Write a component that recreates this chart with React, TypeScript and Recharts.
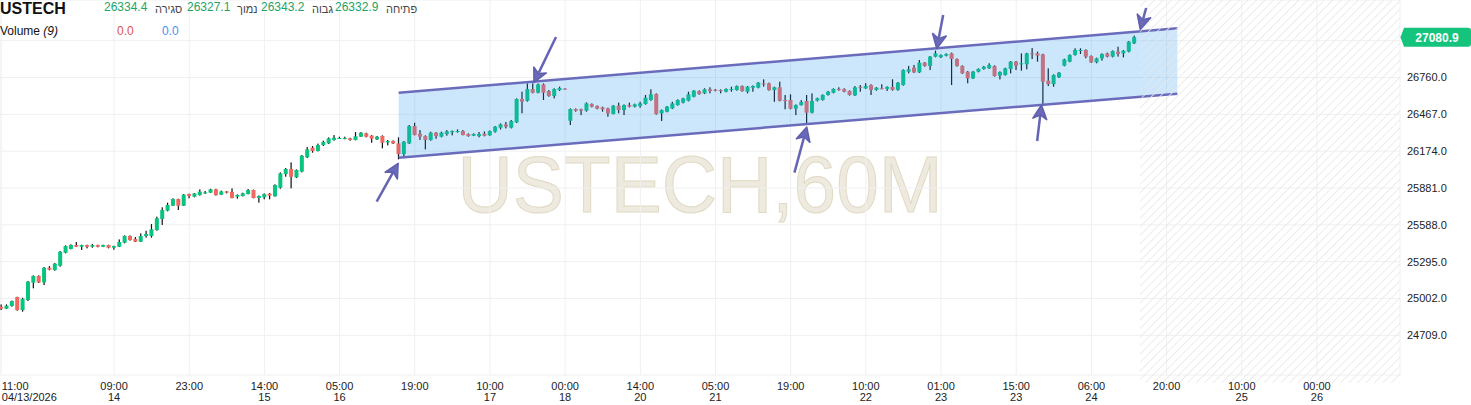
import React from 'react';
import { ComposedChart, Bar, Area, XAxis, YAxis, CartesianGrid, ReferenceLine, ReferenceArea } from 'recharts';

// hourly candles, 04/13 11:00 -> 04/24 (one row per bar)
const opens = [
  24937, 24921, 24942, 25014, 24910, 24990, 25128, 25181, 25130, 25247,
  25228, 25263, 25366, 25396, 25427, 25414, 25427, 25414, 25427, 25414,
  25427, 25406, 25414, 25446, 25499, 25475, 25454, 25499, 25499, 25547,
  25634, 25701, 25740, 25793, 25740, 25833, 25812, 25825, 25838, 25844,
  25870, 25828, 25854, 25849, 25812, 25817, 25833, 25865, 25801, 25807,
  25836, 25815, 25883, 25992, 26032, 25966, 26011, 26125, 26202, 26175,
  26223, 26236, 26263, 26276, 26273, 26276, 26263, 26289, 26316, 26297,
  26268, 26295, 26244, 26255, 26236, 26151, 26236, 26374, 26313, 26294,
  26263, 26321, 26289, 26310, 26324, 26329, 26334, 26310, 26297, 26294,
  26313, 26300, 26329, 26361, 26387, 26361, 26403, 26589, 26575, 26668,
  26639, 26705, 26652, 26613, 26660, 26671, 26416, 26509, 26507, 26496,
  26549, 26533, 26522, 26514, 26469, 26536, 26501, 26541, 26528, 26533,
  26549, 26581, 26628, 26475, 26488, 26514, 26541, 26560, 26575, 26607,
  26652, 26634, 26666, 26663, 26660, 26647, 26667, 26660, 26692, 26647,
  26679, 26679, 26713, 26713, 26660, 26682, 26581, 26581, 26512, 26541,
  26573, 26480, 26576, 26581, 26621, 26639, 26669, 26669, 26653, 26618,
  26686, 26674, 26700, 26661, 26675, 26669, 26685, 26661, 26700, 26806,
  26838, 26801, 26878, 26852, 26926, 26921, 26934, 26952, 26907, 26852,
  26806, 26753, 26806, 26828, 26833, 26851, 26775, 26780, 26828, 26886,
  26865, 26865, 26952, 26952, 26944, 26735, 26708, 26761, 26854, 26886,
  26939, 26978, 26979, 26931, 26881, 26912, 26952, 26926, 26966, 26952,
  26966, 27032,
];
const highs = [
  24955, 24955, 24985, 25016, 25008, 25141, 25186, 25186, 25252, 25260,
  25284, 25380, 25425, 25433, 25451, 25430, 25430, 25435, 25430, 25430,
  25430, 25422, 25472, 25504, 25504, 25491, 25520, 25541, 25594, 25653,
  25727, 25764, 25799, 25796, 25833, 25836, 25841, 25870, 25857, 25875,
  25875, 25860, 25857, 25878, 25830, 25844, 25873, 25868, 25822, 25838,
  25841, 25910, 26005, 26040, 26085, 26029, 26143, 26207, 26215, 26234,
  26257, 26284, 26302, 26289, 26289, 26281, 26326, 26326, 26321, 26302,
  26295, 26300, 26263, 26260, 26284, 26255, 26382, 26400, 26342, 26300,
  26329, 26326, 26329, 26342, 26339, 26347, 26342, 26316, 26316, 26326,
  26331, 26339, 26374, 26395, 26406, 26422, 26594, 26647, 26713, 26713,
  26713, 26713, 26660, 26674, 26687, 26674, 26514, 26514, 26512, 26562,
  26554, 26538, 26528, 26520, 26541, 26560, 26546, 26560, 26552, 26567,
  26621, 26666, 26634, 26506, 26533, 26567, 26586, 26599, 26647, 26660,
  26658, 26674, 26682, 26668, 26666, 26674, 26687, 26697, 26697, 26692,
  26697, 26724, 26745, 26719, 26687, 26727, 26621, 26626, 26546, 26580,
  26621, 26634, 26600, 26626, 26653, 26674, 26682, 26674, 26658, 26692,
  26700, 26714, 26706, 26684, 26706, 26690, 26746, 26724, 26825, 26852,
  26860, 26899, 26883, 26931, 26974, 26944, 26952, 26958, 26912, 26857,
  26812, 26812, 26833, 26852, 26873, 26857, 26809, 26838, 26891, 26891,
  26952, 26957, 26994, 26966, 26949, 26833, 26785, 26804, 26910, 26944,
  26992, 26992, 26984, 26936, 26918, 26952, 26958, 26976, 27005, 26979,
  27050, 27093,
];
const lows = [
  24910, 24918, 24937, 24905, 24897, 24982, 25083, 25125, 25109, 25226,
  25223, 25255, 25361, 25393, 25411, 25388, 25401, 25406, 25409, 25411,
  25401, 25390, 25411, 25441, 25462, 25451, 25451, 25486, 25486, 25541,
  25587, 25695, 25738, 25706, 25738, 25799, 25807, 25820, 25833, 25841,
  25820, 25825, 25838, 25799, 25796, 25814, 25830, 25799, 25764, 25791,
  25791, 25812, 25875, 25971, 25878, 25960, 26005, 26119, 26162, 26172,
  26215, 26231, 26257, 26271, 26268, 26257, 26260, 26287, 26284, 26241,
  26263, 26196, 26220, 26231, 26109, 26122, 26231, 26300, 26263, 26188,
  26257, 26273, 26284, 26297, 26300, 26321, 26300, 26289, 26294, 26284,
  26292, 26297, 26321, 26347, 26355, 26355, 26398, 26475, 26568, 26634,
  26634, 26581, 26607, 26594, 26652, 26668, 26382, 26488, 26461, 26488,
  26522, 26507, 26488, 26448, 26467, 26475, 26461, 26522, 26522, 26520,
  26544, 26575, 26464, 26414, 26483, 26509, 26536, 26554, 26570, 26602,
  26623, 26628, 26634, 26650, 26634, 26642, 26647, 26655, 26647, 26634,
  26647, 26674, 26687, 26655, 26567, 26570, 26507, 26507, 26461, 26536,
  26390, 26475, 26570, 26576, 26616, 26634, 26655, 26642, 26616, 26613,
  26647, 26669, 26621, 26655, 26666, 26653, 26655, 26655, 26695, 26793,
  26796, 26796, 26846, 26820, 26921, 26915, 26928, 26700, 26846, 26788,
  26714, 26748, 26801, 26822, 26828, 26767, 26745, 26775, 26793, 26820,
  26814, 26825, 26907, 26886, 26550, 26692, 26687, 26756, 26849, 26881,
  26934, 26947, 26913, 26876, 26873, 26894, 26920, 26920, 26926, 26920,
  26960, 27026,
];
const closes = [
  24921, 24945, 24982, 24910, 25000, 25136, 25181, 25130, 25247, 25231,
  25279, 25374, 25419, 25427, 25414, 25427, 25414, 25427, 25414, 25427,
  25406, 25419, 25451, 25499, 25467, 25454, 25499, 25515, 25552, 25640,
  25706, 25746, 25793, 25740, 25828, 25817, 25838, 25852, 25846, 25870,
  25825, 25854, 25844, 25801, 25825, 25838, 25865, 25801, 25817, 25833,
  25820, 25905, 25997, 26032, 25971, 26024, 26138, 26188, 26175, 26223,
  26247, 26276, 26281, 26279, 26279, 26263, 26292, 26321, 26289, 26273,
  26289, 26241, 26255, 26236, 26151, 26249, 26374, 26302, 26289, 26263,
  26321, 26294, 26321, 26331, 26334, 26334, 26302, 26294, 26310, 26310,
  26297, 26334, 26369, 26387, 26369, 26414, 26589, 26568, 26668, 26639,
  26705, 26639, 26613, 26668, 26676, 26670, 26509, 26496, 26496, 26554,
  26528, 26512, 26507, 26475, 26536, 26501, 26541, 26528, 26546, 26554,
  26599, 26626, 26469, 26501, 26528, 26554, 26581, 26594, 26626, 26655,
  26628, 26666, 26652, 26655, 26655, 26668, 26668, 26692, 26652, 26687,
  26692, 26719, 26709, 26660, 26682, 26575, 26578, 26512, 26541, 26565,
  26480, 26573, 26594, 26621, 26647, 26669, 26661, 26647, 26621, 26682,
  26685, 26692, 26661, 26679, 26674, 26685, 26661, 26719, 26820, 26825,
  26801, 26878, 26852, 26926, 26952, 26939, 26947, 26907, 26852, 26793,
  26753, 26806, 26828, 26846, 26860, 26772, 26804, 26833, 26886, 26854,
  26873, 26952, 26944, 26934, 26727, 26708, 26780, 26798, 26904, 26939,
  26979, 26979, 26926, 26881, 26912, 26947, 26926, 26971, 26947, 26973,
  27045, 27080.9,
];

// x axis labels (bar index -> time / date)
const tickIndex = [0, 21, 35, 49, 63, 77, 91, 105, 119, 133, 147, 161, 175, 189, 203, 217, 231, 245];
const tickTime = ['11:00', '09:00', '23:00', '14:00', '05:00', '19:00', '10:00', '00:00', '14:00', '05:00', '19:00', '10:00', '01:00', '15:00', '06:00', '20:00', '10:00', '00:00'];
const tickDate = ['04/13/2026', '14', '', '15', '16', '', '17', '18', '20', '21', '', '22', '23', '23', '24', '', '25', '26'];

const priceTicks = [24709, 25002, 25295, 25588, 25881, 26174, 26467, 26760, 27053];
const lastPrice = 27080.9;

// drawn rising channel: two anchor bars, lower / upper price
const channelIdx = [74, 219];
const channelLower = [26122, 26631];
const channelUpper = [26639, 27151];

// arrow annotations (bar index, price)
const arrowFromIdx = [69.9, 103.3, 147.7, 175.4, 192.9, 213.2];
const arrowFromPrice = [25772, 27082, 26003, 27257, 26255, 27313];
const arrowToIdx = [73.9, 99.2, 150.0, 174.2, 193.7, 212.1];
const arrowToPrice = [26077, 26720, 26366, 26991, 26541, 27142];

const futureStart = 212.05;

const headerValues = ['26334.4', '26327.1', '26343.2', '26332.9'];
const headerLabels = ['סגירה', 'נמוך', 'גבוה', 'פתיחה'];

const FONT = 'Arial, "Liberation Sans", Helvetica, sans-serif';
const X_DOMAIN: [number, number] = [-0.242, 260.47];
const Y_DOMAIN: [number, number] = [24393.4, 27376.5];

const candles = opens.map((o, i) => ({
  i,
  o,
  h: highs[i],
  l: lows[i],
  c: closes[i],
  range: [lows[i], highs[i]],
}));

const channelData = channelIdx.map((i, k) => ({ i, band: [channelLower[k], channelUpper[k]] }));

const Candle = (props: any) => {
  const { x, y, width, height, payload } = props;
  if (!payload || payload.o == null) return null;
  const { o, c, h, l } = payload;
  const cx = x + width / 2;
  const k = h - l > 0 ? height / (h - l) : 0;
  const yO = y + (h - o) * k;
  const yC = y + (h - c) * k;
  const up = c >= o;
  const top = Math.min(yO, yC);
  const bh = Math.max(Math.abs(yC - yO), 1);
  return (
    <g>
      <rect x={cx - 0.6} y={y} width={1.2} height={Math.max(height, 1)} fill="#111" />
      <rect x={cx - 2} y={top} width={4} height={bh} fill={up ? '#08c47e' : '#f2675f'} />
    </g>
  );
};

const TimeTick = (props: any) => {
  const { x, y, payload } = props;
  const k = tickIndex.indexOf(payload.value);
  if (k < 0) return null;
  const first = k === 0;
  const tx = first ? x + 0.5 : x;
  const anchor = first ? 'start' : 'middle';
  return (
    <g fontFamily={FONT} fontSize={11} fill="#222">
      <text x={tx} y={y + 15} textAnchor={anchor}>{tickTime[k]}</text>
      <text x={tx} y={y + 26} textAnchor={anchor}>{tickDate[k]}</text>
    </g>
  );
};

const PriceTick = (props: any) => {
  const { x, y, payload } = props;
  if (Math.abs(payload.value - lastPrice) < 40) return null; // hidden by the price badge
  return (
    <text x={x + 7} y={y + 4} fontFamily={FONT} fontSize={11} fill="#222">
      {Number(payload.value).toFixed(1)}
    </text>
  );
};

const PriceBadge = (props: any) => {
  const vb = props.viewBox || {};
  const right = vb.x + vb.width;
  const cy = vb.y;
  return (
    <g>
      <path
        d={`M${right + 0.5},${cy} L${right + 4},${cy - 9.5} L${right + 68},${cy - 9.5} Q${right + 71},${cy - 9.5} ${right + 71},${cy - 6.5} L${right + 71},${cy + 6.5} Q${right + 71},${cy + 9.5} ${right + 68},${cy + 9.5} L${right + 4},${cy + 9.5} Z`}
        fill="#14c47c"
      />
      <text x={right + 37} y={cy + 4.5} textAnchor="middle" fontFamily={FONT} fontSize={12} fontWeight="bold" fill="#fff">
        {lastPrice.toFixed(1)}
      </text>
    </g>
  );
};

const ArrowShape = (props: any) => {
  const { x1, y1, x2, y2 } = props;
  if ([x1, y1, x2, y2].some((v) => v == null || isNaN(v))) return null;
  const dx = x2 - x1;
  const dy = y2 - y1;
  const len = Math.hypot(dx, dy) || 1;
  const ux = dx / len;
  const uy = dy / len;
  const hl = 14;
  const hw = 7;
  const bx = x2 - ux * hl;
  const by = y2 - uy * hl;
  return (
    <g>
      <line x1={x1} y1={y1} x2={bx + ux * 3} y2={by + uy * 3} stroke="#6565b5" strokeWidth={2.5} />
      <polygon
        points={`${x2},${y2} ${bx - uy * hw},${by + ux * hw} ${bx + ux * 4},${by + uy * 4} ${bx + uy * hw},${by - ux * hw}`}
        fill="#6a6abb"
        stroke="#5f5fae"
        strokeWidth={1.5}
        strokeLinejoin="round"
      />
    </g>
  );
};

export default function App() {
  return (
    <div style={{ position: 'absolute', left: 0, top: 0, width: 1471, height: 405, background: '#fff', overflow: 'hidden' }}>
      <svg width={1471} height={405} style={{ position: 'absolute', left: 0, top: 0 }}>
        <text
          x={700}
          y={211.7}
          textAnchor="middle"
          fontFamily={FONT}
          fontSize={80}
          textLength={485}
          lengthAdjust="spacingAndGlyphs"
          fill="#eeeadf"
          stroke="#e0d9c3"
          strokeWidth={1}
        >
          USTECH,60M
        </text>
      </svg>
      <div style={{ position: 'absolute', left: 0, top: 0 }}>
        <ComposedChart width={1471} height={405} data={candles} margin={{ top: 0, right: 0, bottom: 0, left: 0 }}>
          <defs>
            <pattern id="hatch" width="6" height="6" patternUnits="userSpaceOnUse" patternTransform="rotate(45)">
              <line x1="0" y1="0" x2="0" y2="6" stroke="#e8e8e8" strokeWidth="1.6" />
            </pattern>
          </defs>
          <CartesianGrid stroke="#f0f0f0" />
          <XAxis
            type="number"
            dataKey="i"
            domain={X_DOMAIN}
            allowDataOverflow
            ticks={tickIndex}
            interval={0}
            tick={<TimeTick />}
            tickLine={false}
            axisLine={false}
            tickSize={0}
            tickMargin={0}
            height={30}
          />
          <YAxis
            orientation="right"
            domain={Y_DOMAIN}
            allowDataOverflow
            ticks={priceTicks}
            interval={0}
            tick={<PriceTick />}
            tickLine={false}
            axisLine={false}
            tickSize={0}
            tickMargin={0}
            width={71}
          />
          <Bar dataKey="range" shape={Candle} barSize={5} isAnimationActive={false} />
          <Area
            data={channelData}
            dataKey="band"
            type="linear"
            stroke="#6b6bbc"
            strokeWidth={2.5}
            fill="#2196f3"
            fillOpacity={0.23}
            dot={false}
            activeDot={false}
            isAnimationActive={false}
            zIndex={350}
          />
          <ReferenceArea
            x1={futureStart}
            x2={X_DOMAIN[1]}
            y1={24330}
            y2={Y_DOMAIN[1]}
            fill="url(#hatch)"
            fillOpacity={1}
            stroke="none"
            ifOverflow="visible"
            zIndex={360}
          />
          {arrowFromIdx.map((fx, k) => (
            <ReferenceLine
              key={k}
              segment={[
                { x: fx, y: arrowFromPrice[k] },
                { x: arrowToIdx[k], y: arrowToPrice[k] },
              ]}
              ifOverflow="visible"
              shape={ArrowShape}
              zIndex={400}
            />
          ))}
          <ReferenceLine y={lastPrice} stroke="none" ifOverflow="visible" label={<PriceBadge />} />
        </ComposedChart>
      </div>
      <svg width={460} height={40} style={{ position: 'absolute', left: 0, top: 0, pointerEvents: 'none' }} fontFamily={FONT}>
        <text x={0} y={13.5} fontSize={16} fontWeight="bold" fill="#111">USTECH</text>
        {headerValues.map((v, k) => (
          <text key={'v' + k} x={[104, 187, 261, 335][k]} y={10.5} fontSize={12} fill="#22a466">{v}</text>
        ))}
        {headerLabels.map((t, k) => (
          <text key={'l' + k} x={[155, 237, 312, 386][k]} y={12.5} fontSize={11} fill="#444">{t}</text>
        ))}
        <text x={0} y={34.5} fontSize={12} fill="#111">
          Volume <tspan fontStyle="italic">(9)</tspan>
        </text>
        <text x={117} y={34.5} fontSize={12} fill="#e0524c">0.0</text>
        <text x={162} y={34.5} fontSize={12} fill="#4a8ff0">0.0</text>
      </svg>
    </div>
  );
}
